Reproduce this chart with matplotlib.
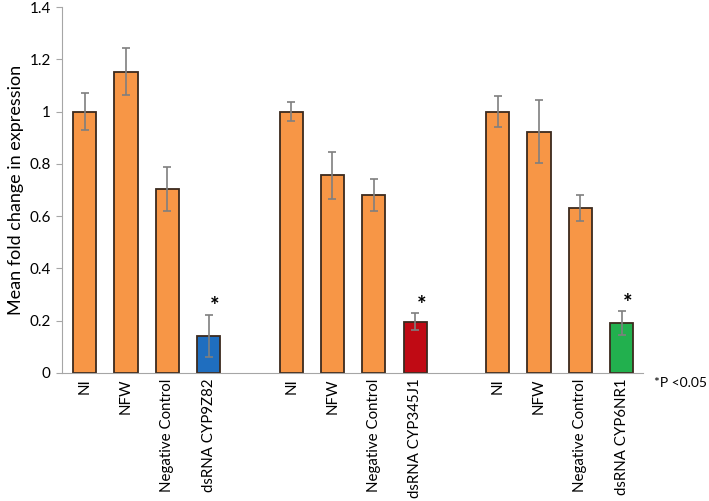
import numpy as np
import matplotlib
matplotlib.use('Agg')
import matplotlib.pyplot as plt
from matplotlib.ticker import FuncFormatter

plt.rcParams['font.family'] = ['Lato', 'DejaVu Sans']

labels = ['NI', 'NFW', 'Negative Control', 'dsRNA CYP9Z82',
          'NI', 'NFW', 'Negative Control', 'dsRNA CYP345J1',
          'NI', 'NFW', 'Negative Control', 'dsRNA CYP6NR1']
positions = [0, 1, 2, 3, 5, 6, 7, 8, 10, 11, 12, 13]
values = [1.0, 1.153, 0.704, 0.143,
          1.0, 0.757, 0.681, 0.196,
          1.0, 0.923, 0.632, 0.192]
errors = [0.072, 0.09, 0.085, 0.08,
          0.036, 0.09, 0.062, 0.032,
          0.058, 0.12, 0.049, 0.045]
colors = ['#F79646'] * 3 + ['#1F6EBF'] + ['#F79646'] * 3 + ['#C00A14'] + ['#F79646'] * 3 + ['#22B04E']
significant = [3, 7, 11]

fig = plt.figure(figsize=(7.09, 5.01), dpi=100)
ax = fig.add_axes([0.0874, 0.2555, 0.8196, 0.7305])

ax.bar(positions, values, width=0.56, color=colors, edgecolor='#3B2A1E', linewidth=1.3,
       yerr=errors, error_kw=dict(ecolor='#7F7F7F', elinewidth=1.2, capsize=3, capthick=1.2))

for i in significant:
    ax.text(positions[i] + 0.15, values[i] + errors[i] - 0.01, '*', fontsize=16,
            fontweight='bold', ha='center', va='bottom')

ax.set_xlim(-0.55, 13.52)
ax.set_ylim(0, 1.4)
ax.set_yticks(np.arange(0, 1.41, 0.2))
ax.yaxis.set_major_formatter(FuncFormatter(lambda v, p: '{:g}'.format(round(v, 1))))
ax.set_xticks(positions)
ax.set_xticklabels(labels, rotation=90, fontsize=10.8)
ax.tick_params(axis='x', length=0, pad=4)
ax.tick_params(axis='y', length=4, color='#A6A6A6', labelsize=11, pad=4)
ax.set_ylabel('Mean fold change in expression', fontsize=13)

for s in ['top', 'right']:
    ax.spines[s].set_visible(False)
ax.spines['left'].set_color('#A6A6A6')
ax.spines['bottom'].set_color('#A6A6A6')

fig.text(0.922, 0.235, '*P <0.05', fontsize=10, ha='left', va='center')

fig.savefig('out.png', dpi=100)
